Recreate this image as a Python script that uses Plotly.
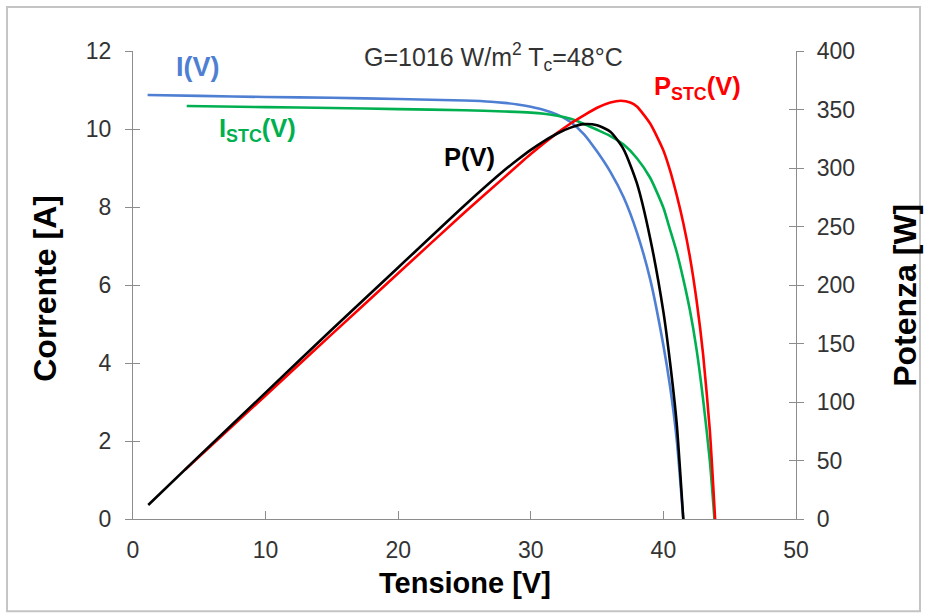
import plotly.graph_objects as go

# ---- data ----
v_i = [1.1, 5, 10, 15, 20, 25, 27, 28, 29, 30, 31, 32, 33, 34, 35, 36, 37, 38, 39, 40, 40.5, 41, 41.5]
i_v = [10.87, 10.85, 10.82, 10.80, 10.77, 10.73, 10.70, 10.67, 10.63, 10.57, 10.49, 10.37, 10.18, 9.87, 9.42, 8.90, 8.25, 7.35, 6.15, 4.45, 3.40, 2.05, 0.0]

v_istc = [4.05, 10, 15, 20, 25, 28, 30, 31, 32, 33, 34, 35, 36, 37, 38, 39, 40, 40.5, 41, 41.5, 42, 42.5, 43, 43.5, 43.85]
i_stc = [10.59, 10.56, 10.54, 10.51, 10.48, 10.45, 10.42, 10.39, 10.34, 10.26, 10.13, 9.98, 9.82, 9.60, 9.25, 8.75, 7.98, 7.42, 6.85, 6.15, 5.35, 4.35, 3.05, 1.50, 0.0]

v_p = [1.15, 5, 10, 15, 20, 25, 28, 29, 30, 31, 32, 33, 34, 35, 36, 37, 38, 39, 40, 40.5, 41, 41.5]
p_v = [12, 54, 108, 162, 215, 268, 298, 307, 315.5, 323, 329.5, 334.5, 337.5, 336.5, 331, 316, 287, 240, 177, 134, 82, 0]

v_pstc = [3.92, 10, 15, 20, 25, 28, 30, 32, 33, 34, 35, 36, 36.8, 37.5, 38, 39, 40, 40.5, 41, 41.5, 42, 42.5, 43, 43.5, 43.9]
p_stc = [42, 105.6, 158, 210, 262, 292, 312, 330, 338, 345, 351.5, 356, 357.5, 356, 352.5, 338, 315, 298, 277, 253, 224, 187, 140, 76, 0]

x_ticks = [0, 10, 20, 30, 40, 50]
yl_ticks = [0, 2, 4, 6, 8, 10, 12]
yr_ticks = [0, 50, 100, 150, 200, 250, 300, 350, 400]

BLUE = "#4f7fd3"
GREEN = "#00b050"
RED = "#ff0000"
BLACK = "#000000"
AX = "#8c8c8c"
TXT = "#333333"
FONT = "Liberation Sans, Arial, sans-serif"

fig = go.Figure()
line_kw = dict(width=2.6, shape="spline", smoothing=0.6)
fig.add_trace(go.Scatter(x=v_i, y=i_v, mode="lines", name="I(V)",
                         line=dict(color=BLUE, **line_kw), yaxis="y"))
fig.add_trace(go.Scatter(x=v_istc, y=i_stc, mode="lines", name="I_STC(V)",
                         line=dict(color=GREEN, **line_kw), yaxis="y"))
fig.add_trace(go.Scatter(x=v_pstc, y=p_stc, mode="lines", name="P_STC(V)",
                         line=dict(color=RED, **line_kw), yaxis="y2"))
fig.add_trace(go.Scatter(x=v_p, y=p_v, mode="lines", name="P(V)",
                         line=dict(color=BLACK, **line_kw), yaxis="y2"))

tickfont = dict(family=FONT, size=23, color=TXT)
common = dict(showgrid=False, zeroline=False, showline=True, linecolor=AX, linewidth=1.2,
              ticks="outside", ticklen=7, tickcolor=AX, tickwidth=1.2, tickfont=tickfont)

fig.update_layout(
    width=925, height=616,
    margin=dict(l=133, r=129, t=51, b=97),
    paper_bgcolor="white", plot_bgcolor="white",
    showlegend=False,
    font=dict(family=FONT, color=TXT),
    xaxis=dict(range=[0, 50], tickvals=x_ticks, showgrid=False, zeroline=False, showline=True,
               linecolor=AX, linewidth=1.2, ticks="inside", ticklen=8, tickcolor=AX, tickwidth=1.2,
               tickfont=tickfont, ticklabelstandoff=10),
    yaxis=dict(range=[0, 12], tickvals=yl_ticks, side="left", ticklabelstandoff=9, **common),
    yaxis2=dict(range=[0, 400], tickvals=yr_ticks, side="right", overlaying="y", anchor="x",
                ticklabelstandoff=8, **common),
    yaxis3=dict(range=[0, 12], tickvals=yl_ticks, side="left", overlaying="y", anchor="x",
                showgrid=False, zeroline=False, showline=False, ticks="inside", ticklen=7,
                tickcolor=AX, tickwidth=1.2, showticklabels=False),
    yaxis4=dict(range=[0, 400], tickvals=yr_ticks, side="right", overlaying="y", anchor="x",
                showgrid=False, zeroline=False, showline=False, ticks="inside", ticklen=7,
                tickcolor=AX, tickwidth=1.2, showticklabels=False),
)
fig.add_trace(go.Scatter(x=[None], y=[None], yaxis="y3", showlegend=False, hoverinfo="skip"))
fig.add_trace(go.Scatter(x=[None], y=[None], yaxis="y4", showlegend=False, hoverinfo="skip"))

xt_font = dict(family=FONT, size=29, color="#000000")
yt_font = dict(family=FONT, size=32, color="#000000")
ann = [
    dict(text="<b>Tensione [V]</b>", x=0.5008, y=-0.137, font=xt_font, textangle=0),
    dict(text="<b>Corrente [A]</b>", x=-0.1327, y=0.492, font=yt_font, textangle=-90),
    dict(text="<b>Potenza [W]</b>", x=1.1644, y=0.479, font=yt_font, textangle=-90),
    dict(text="<b>I(V)</b>", x=0.098, y=0.966, font=dict(family=FONT, size=27, color=BLUE)),
    dict(text="<b>I<sub>STC</sub>(V)</b>", x=0.1885, y=0.831, font=dict(family=FONT, size=25.5, color=GREEN)),
    dict(text="<b>P(V)</b>", x=0.508, y=0.7735, font=dict(family=FONT, size=25.5, color=BLACK)),
    dict(text="<b>P<sub>STC</sub>(V)</b>", x=0.8507, y=0.921, font=dict(family=FONT, size=25.5, color=RED)),
    dict(text="G=1016 W/m<sup>2</sup> T<sub>c</sub>=48°C", x=0.543, y=0.987,
         font=dict(family=FONT, size=25, color=TXT)),
]
for a in ann:
    fig.add_annotation(xref="paper", yref="paper", showarrow=False, xanchor="center", yanchor="middle", **a)

fig.add_shape(type="rect", xref="paper", yref="paper", x0=-0.19, x1=1.187, y0=-0.197, y1=1.094,
              line=dict(color="#c4c4c4", width=2), fillcolor="rgba(0,0,0,0)", layer="below")

fig.write_html("out.html", config={"displayModeBar": False},
               post_script="document.body.style.margin='0px';document.body.style.overflow='hidden';")
